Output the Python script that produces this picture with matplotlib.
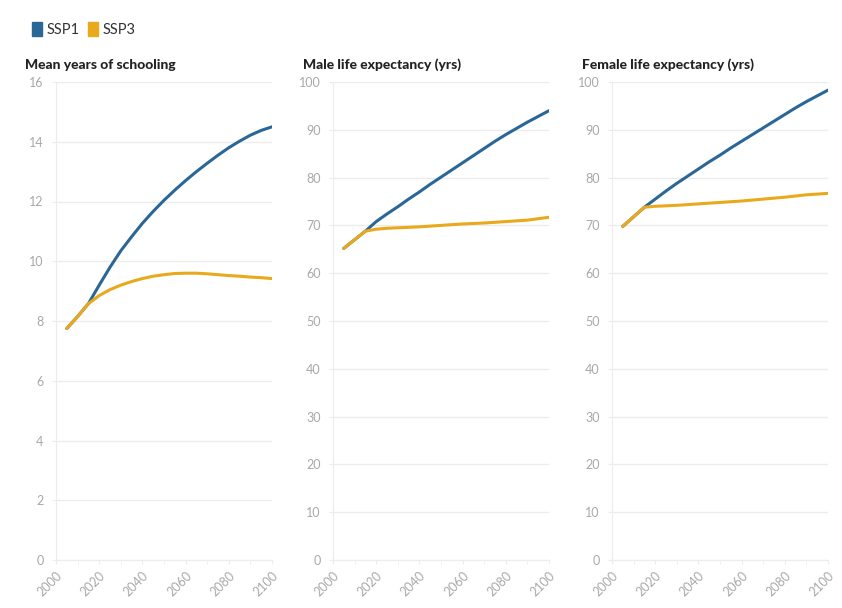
import matplotlib
matplotlib.use('agg')
import matplotlib.pyplot as plt
from matplotlib.patches import Patch
from matplotlib.ticker import MultipleLocator

years = [2005, 2010, 2015, 2020, 2025, 2030, 2035, 2040, 2045, 2050, 2055,
         2060, 2065, 2070, 2075, 2080, 2085, 2090, 2095, 2100]

school_ssp1 = [7.75, 8.15, 8.58, 9.2, 9.8, 10.35, 10.82, 11.27, 11.67, 12.04,
               12.38, 12.7, 13.0, 13.28, 13.55, 13.8, 14.02, 14.22, 14.38, 14.5]
school_ssp3 = [7.75, 8.15, 8.58, 8.85, 9.05, 9.2, 9.32, 9.42, 9.5, 9.55,
               9.59, 9.6, 9.6, 9.58, 9.55, 9.52, 9.5, 9.47, 9.45, 9.42]

male_ssp1 = [65.2, 67.0, 68.8, 70.8, 72.4, 73.9, 75.5, 77.0, 78.6, 80.1,
             81.6, 83.1, 84.6, 86.1, 87.6, 89.0, 90.3, 91.6, 92.8, 94.0]
male_ssp3 = [65.2, 67.0, 68.8, 69.2, 69.4, 69.5, 69.6, 69.7, 69.85, 70.0,
             70.15, 70.3, 70.4, 70.5, 70.65, 70.8, 70.95, 71.1, 71.4, 71.7]

female_ssp1 = [69.8, 71.8, 73.8, 75.5, 77.2, 78.8, 80.3, 81.8, 83.3, 84.7,
               86.2, 87.6, 89.0, 90.4, 91.8, 93.2, 94.6, 95.9, 97.1, 98.3]
female_ssp3 = [69.8, 71.8, 73.8, 74.0, 74.1, 74.2, 74.35, 74.5, 74.65, 74.8,
               74.95, 75.1, 75.3, 75.5, 75.7, 75.9, 76.15, 76.4, 76.55, 76.7]

titles = ["Mean years of schooling", "Male life expectancy (yrs)",
          "Female life expectancy (yrs)"]
series = [(school_ssp1, school_ssp3), (male_ssp1, male_ssp3),
          (female_ssp1, female_ssp3)]
ylims = [(0, 16, 2), (0, 100, 10), (0, 100, 10)]

BLUE = "#2a6797"
YELLOW = "#e8a91c"
GRID = "#ececec"
TICK = "#a8a8a8"

plt.rcParams['font.family'] = ['Lato', 'DejaVu Sans']

fig = plt.figure(figsize=(8.42, 6.08), dpi=100)

lefts = [56, 333, 612]
title_x = [25, 303, 582]
for i in range(3):
    ax = fig.add_axes([lefts[i] / 842, 1 - 560 / 608, 216 / 842, 478 / 608])
    s1, s3 = series[i]
    # SSP3 goes on top so the shared early stretch reads yellow
    ax.plot(years, s1, color=BLUE, lw=2.2, solid_capstyle='round', zorder=3)
    ax.plot(years, s3, color=YELLOW, lw=2.2, solid_capstyle='round', zorder=4)

    lo, hi, step = ylims[i]
    ax.set_ylim(lo, hi)
    ax.set_xlim(2000, 2100)
    ax.yaxis.set_major_locator(MultipleLocator(step))
    ax.xaxis.set_major_locator(MultipleLocator(20))
    ax.xaxis.set_minor_locator(MultipleLocator(10))
    ax.grid(axis='y', color=GRID, lw=1)
    ax.set_axisbelow(True)

    for side in ['top', 'right']:
        ax.spines[side].set_visible(False)
    ax.spines['left'].set_color(GRID)
    ax.spines['bottom'].set_color(GRID)
    ax.tick_params(axis='both', which='both', colors=GRID, labelcolor=TICK,
                   labelsize=9, length=3)
    ax.tick_params(axis='y', pad=6)
    for lbl in ax.get_xticklabels():
        lbl.set_rotation(45)
        lbl.set_ha('right')
        lbl.set_va('top')
        lbl.set_rotation_mode('anchor')

    fig.text(title_x[i] / 842, 1 - 65 / 608, titles[i], fontsize=10,
             fontweight='black', color='#222222', ha='left', va='center')

handles = [Patch(facecolor=BLUE, edgecolor=BLUE),
           Patch(facecolor=YELLOW, edgecolor=YELLOW)]
fig.legend(handles, ["SSP1", "SSP3"], loc='upper left',
           bbox_to_anchor=(0.022, 0.985), ncol=2, frameon=False,
           handlelength=0.7, handleheight=1.1, handletextpad=0.3,
           columnspacing=0.6, fontsize=10.5, labelcolor='#333333')

fig.savefig("out.png", dpi=100, facecolor='white')
